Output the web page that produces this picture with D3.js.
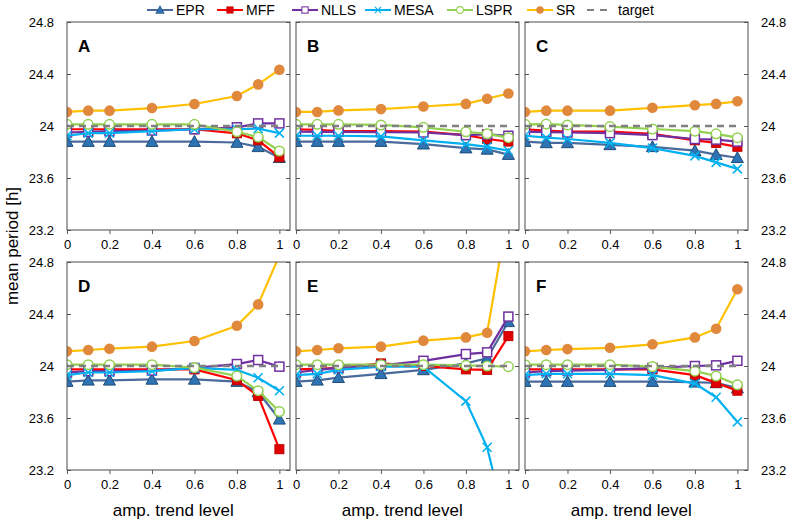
<!DOCTYPE html>
<html>
<head>
<meta charset="utf-8">
<script src="https://cdn.jsdelivr.net/npm/d3@7"></script>
<style>
  body { margin: 0; background: #fff; }
  svg { display: block; font-family: Arial, "Liberation Sans", sans-serif; }
</style>
</head>
<body>
<svg id="chart" width="792" height="525"></svg>
<script>
// ---------- DATA ----------
const X = [0, 0.1, 0.2, 0.4, 0.6, 0.8, 0.9, 1];
const panelLabels = ["A", "B", "C", "D", "E", "F"];
const yTicks = [23.2, 23.6, 24, 24.4, 24.8];
const xTicks = [0, 0.2, 0.4, 0.6, 0.8, 1];
const seriesNames = ["EPR", "MFF", "NLLS", "MESA", "LSPR", "SR"];
const TARGET = 24;

// one row per panel A..F
const EPR = [
  [23.88, 23.88, 23.88, 23.88, 23.88, 23.873, 23.84, 23.756],
  [23.88, 23.88, 23.88, 23.88, 23.86, 23.83, 23.82, 23.78],
  [23.88, 23.87, 23.87, 23.855, 23.84, 23.81, 23.78, 23.756],
  [23.88, 23.89, 23.89, 23.897, 23.897, 23.88, 23.80, 23.59],
  [23.88, 23.89, 23.91, 23.94, 23.97, 24.02, 24.06, 24.34],
  [23.88, 23.88, 23.88, 23.88, 23.88, 23.875, 23.87, 23.83]
];
const MFF = [
  [23.975, 23.975, 23.975, 23.975, 23.975, 23.944, 23.89, 23.76],
  [23.975, 23.97, 23.96, 23.96, 23.956, 23.93, 23.90, 23.88],
  [23.975, 23.965, 23.956, 23.956, 23.94, 23.89, 23.87, 23.84],
  [23.974, 23.974, 23.974, 23.974, 23.974, 23.89, 23.77, 23.36],
  [23.974, 23.978, 23.985, 24.02, 24.0, 23.974, 23.97, 24.23],
  [23.974, 23.974, 23.974, 23.974, 23.974, 23.93, 23.87, 23.81]
];
const NLLS = [
  [23.95, 23.955, 23.96, 23.965, 23.975, 23.99, 24.02, 24.02],
  [23.956, 23.955, 23.955, 23.952, 23.95, 23.93, 23.935, 23.925],
  [23.956, 23.953, 23.95, 23.945, 23.93, 23.90, 23.895, 23.88],
  [23.95, 23.96, 23.96, 23.965, 23.985, 24.015, 24.046, 23.995],
  [23.95, 23.97, 23.985, 24.005, 24.04, 24.092, 24.105, 24.38],
  [23.95, 23.96, 23.965, 23.97, 23.985, 24.0, 24.005, 24.04]
];
const MESA = [
  [23.925, 23.945, 23.945, 23.96, 23.975, 23.975, 23.98, 23.945],
  [23.925, 23.925, 23.925, 23.92, 23.89, 23.86, 23.84, 23.81],
  [23.925, 23.91, 23.90, 23.87, 23.83, 23.77, 23.72, 23.67],
  [23.93, 23.95, 23.95, 23.96, 23.985, 23.97, 23.91, 23.81],
  [23.93, 23.94, 23.97, 23.995, 23.995, 23.73, 23.375, 22.7],
  [23.93, 23.94, 23.94, 23.94, 23.93, 23.865, 23.76, 23.57]
];
const LSPR = [
  [24.013, 24.013, 24.013, 24.013, 24.013, 23.956, 23.915, 23.808],
  [24.013, 24.013, 24.013, 24.008, 23.99, 23.956, 23.94, 23.91],
  [24.013, 24.015, 24.008, 23.995, 23.977, 23.96, 23.94, 23.91],
  [24.01, 24.01, 24.01, 24.01, 23.987, 23.923, 23.81, 23.65],
  [24.01, 24.01, 24.01, 24.01, 24.01, 24.005, 24.0, 23.995],
  [24.01, 24.01, 24.01, 24.01, 23.995, 23.96, 23.923, 23.856]
];
const SR = [
  [24.108, 24.118, 24.118, 24.138, 24.169, 24.231, 24.32, 24.433],
  [24.108, 24.108, 24.12, 24.13, 24.15, 24.17, 24.21, 24.25],
  [24.108, 24.118, 24.118, 24.118, 24.14, 24.16, 24.17, 24.19],
  [24.113, 24.123, 24.133, 24.149, 24.192, 24.31, 24.474, 24.85],
  [24.113, 24.123, 24.136, 24.149, 24.195, 24.22, 24.256, 25.2],
  [24.113, 24.123, 24.13, 24.14, 24.167, 24.22, 24.287, 24.59]
];
const seriesData = [EPR, MFF, NLLS, MESA, LSPR, SR];

// ---------- STYLE ----------
const styles = {
  EPR:  { line: "#4A6A9C", fill: "#2E74B5", stroke: "#1F4E79", marker: "tri" },
  MFF:  { line: "#FF0000", fill: "#E00000", stroke: "#C00000", marker: "sq" },
  NLLS: { line: "#7030A0", fill: "#FFFFFF", stroke: "#7030A0", marker: "osq" },
  MESA: { line: "#00B0F0", fill: "none",    stroke: "#00B0F0", marker: "x" },
  LSPR: { line: "#92D050", fill: "#FFFFFF", stroke: "#92D050", marker: "oc" },
  SR:   { line: "#FFC000", fill: "#E0883C", stroke: "none",    marker: "dot" }
};

const svg = d3.select("#chart");
const pw = 223, ph = 208;
const colX = [67, 296, 525];
const rowY = [22, 262];

const x = d3.scaleLinear().domain([0, 1.05]).range([0, pw]);
const y = d3.scaleLinear().domain([23.2, 24.8]).range([ph, 0]);

function drawMarker(g, type, st, cx, cy) {
  if (type === "tri") {
    const s = 6;
    g.append("path").attr("d", `M${cx},${cy - s} L${cx + s},${cy + s * 0.8} L${cx - s},${cy + s * 0.8} Z`)
      .attr("fill", st.fill).attr("stroke", st.stroke).attr("stroke-width", 1);
  } else if (type === "sq") {
    g.append("rect").attr("x", cx - 4.5).attr("y", cy - 4.5).attr("width", 9).attr("height", 9)
      .attr("fill", st.fill).attr("stroke", st.stroke).attr("stroke-width", 1);
  } else if (type === "osq") {
    g.append("rect").attr("x", cx - 4.5).attr("y", cy - 4.5).attr("width", 9).attr("height", 9)
      .attr("fill", st.fill).attr("stroke", st.stroke).attr("stroke-width", 1.5);
  } else if (type === "x") {
    const s = 4.5;
    g.append("path").attr("d", `M${cx - s},${cy - s} L${cx + s},${cy + s} M${cx - s},${cy + s} L${cx + s},${cy - s}`)
      .attr("stroke", st.stroke).attr("stroke-width", 1.5).attr("fill", "none");
  } else if (type === "oc") {
    g.append("circle").attr("cx", cx).attr("cy", cy).attr("r", 4.8)
      .attr("fill", st.fill).attr("stroke", st.stroke).attr("stroke-width", 1.5);
  } else if (type === "dot") {
    g.append("circle").attr("cx", cx).attr("cy", cy).attr("r", 5.3).attr("fill", st.fill);
  }
}

const defs = svg.append("defs");
defs.append("clipPath").attr("id", "pclip").append("rect")
  .attr("x", 0).attr("y", 0).attr("width", pw).attr("height", ph);

const line = d3.line().x(d => x(d[0])).y(d => y(d[1]));

panelLabels.forEach((lab, pi) => {
  const col = pi % 3, row = Math.floor(pi / 3);
  const g = svg.append("g").attr("transform", `translate(${colX[col]},${rowY[row]})`);

  // x axis
  const xa = g.append("g").attr("transform", `translate(0,${ph})`)
    .call(d3.axisBottom(x).tickValues(xTicks).tickSize(4).tickFormat(d3.format("~g")));
  xa.select(".domain").remove();
  xa.selectAll("line").attr("stroke", "#595959");
  xa.selectAll("text").attr("font-size", 13).attr("fill", "#000").attr("dy", "0.95em")
    .attr("font-family", "Arial, 'Liberation Sans', sans-serif");

  // inner y ticks left & right
  const ya = g.append("g").call(d3.axisRight(y).tickValues(yTicks).tickSize(4).tickFormat(""));
  ya.select(".domain").remove();
  ya.selectAll("line").attr("stroke", "#595959");
  const yb = g.append("g").attr("transform", `translate(${pw},0)`)
    .call(d3.axisLeft(y).tickValues(yTicks).tickSize(4).tickFormat(""));
  yb.select(".domain").remove();
  yb.selectAll("line").attr("stroke", "#595959");

  if (col === 0) {
    const yl = g.append("g").call(d3.axisLeft(y).tickValues(yTicks).tickSize(0).tickPadding(13).tickFormat(d3.format("~g")));
    yl.select(".domain").remove();
    yl.selectAll("text").attr("font-size", 13).attr("fill", "#000")
      .attr("font-family", "Arial, 'Liberation Sans', sans-serif");
  }
  if (col === 2) {
    const yr = g.append("g").attr("transform", `translate(${pw},0)`)
      .call(d3.axisRight(y).tickValues(yTicks).tickSize(0).tickPadding(13).tickFormat(d3.format("~g")));
    yr.select(".domain").remove();
    yr.selectAll("text").attr("font-size", 13).attr("fill", "#000")
      .attr("font-family", "Arial, 'Liberation Sans', sans-serif");
  }

  const plot = g.append("g").attr("clip-path", "url(#pclip)");

  seriesNames.forEach((name, si) => {
    const st = styles[name];
    const pts = X.map((xv, i) => [xv, seriesData[si][pi][i]]);
    plot.append("path").attr("d", line(pts)).attr("fill", "none")
      .attr("stroke", st.line).attr("stroke-width", 2.2);
    const mg = plot.append("g");
    pts.forEach(p => drawMarker(mg, st.marker, st, x(p[0]), y(p[1])));
  });

  // target
  plot.append("line").attr("x1", x(0)).attr("x2", x(1)).attr("y1", y(TARGET)).attr("y2", y(TARGET))
    .attr("stroke", "#808080").attr("stroke-width", 2.5).attr("stroke-dasharray", "7,5");

  // frame
  g.append("rect").attr("x", 0).attr("y", 0).attr("width", pw).attr("height", ph)
    .attr("fill", "none").attr("stroke", "#4d4d4d").attr("stroke-width", 1);

  // panel letter
  g.append("text").attr("x", 11).attr("y", 30).text(lab)
    .attr("font-size", 17).attr("font-weight", "bold").attr("fill", "#000");

  // x title
  if (row === 1) {
    g.append("text").attr("x", x(0.5)).attr("y", 254).attr("text-anchor", "middle")
      .attr("font-size", 17).attr("fill", "#000").text("amp. trend level");
  }
});

// y title
svg.append("text").attr("transform", "translate(18,246) rotate(-90)").attr("text-anchor", "middle")
  .attr("font-size", 17).attr("fill", "#000").text("mean period [h]");

// legend
const legendItems = seriesNames.concat(["target"]);
const legendX = [147, 217, 292, 365, 447, 527, 587];
const lg = svg.append("g");
legendItems.forEach((name, i) => {
  const lx = legendX[i], ly = 10;
  const gi = lg.append("g");
  if (name === "target") {
    gi.append("line").attr("x1", lx).attr("x2", lx + 26).attr("y1", ly).attr("y2", ly)
      .attr("stroke", "#808080").attr("stroke-width", 2).attr("stroke-dasharray", "7,6");
    gi.append("text").attr("x", lx + 31).attr("y", ly + 5).attr("font-size", 14).text(name);
  } else {
    const st = styles[name];
    gi.append("line").attr("x1", lx).attr("x2", lx + 26).attr("y1", ly).attr("y2", ly)
      .attr("stroke", st.line).attr("stroke-width", 2);
    const mg = gi.append("g").attr("transform", `translate(${lx + 13},${ly}) scale(0.7) translate(${-(lx + 13)},${-ly})`);
    drawMarker(mg, st.marker, st, lx + 13, ly);
    gi.append("text").attr("x", lx + 29).attr("y", ly + 5).attr("font-size", 14).text(name);
  }
});
</script>
</body>
</html>
